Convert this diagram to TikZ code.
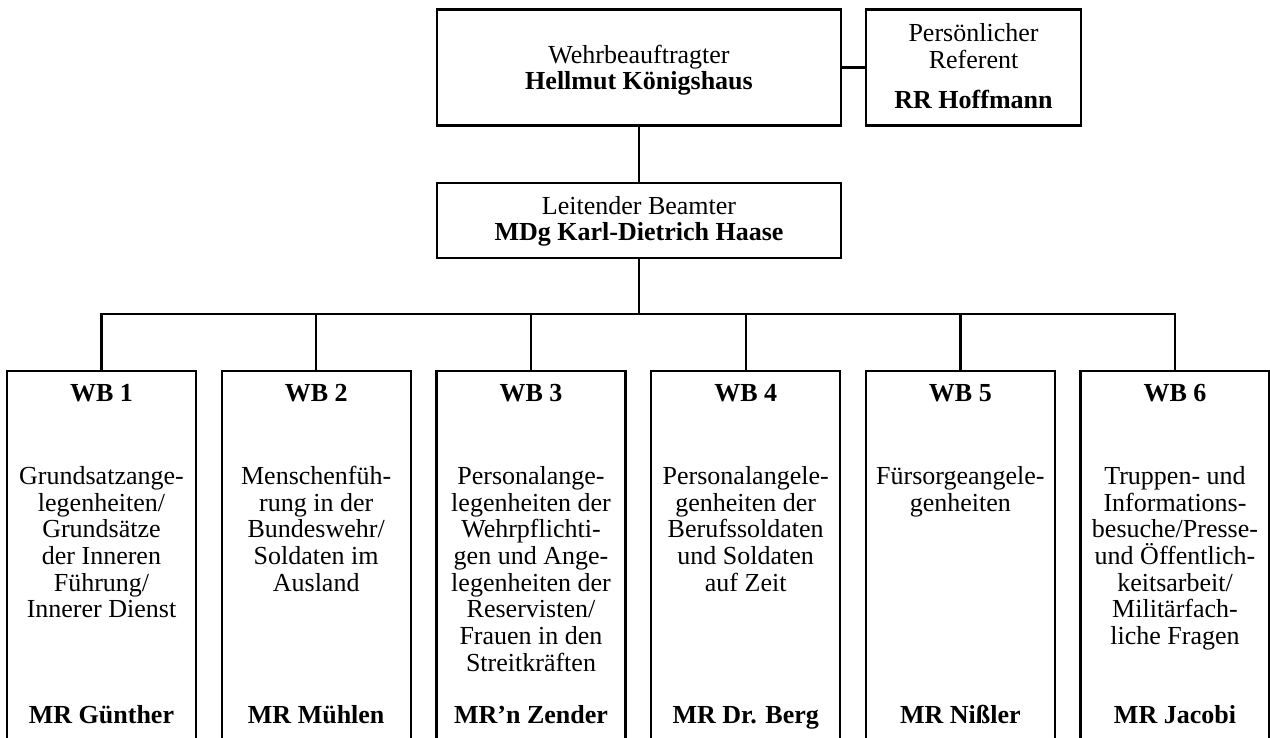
\documentclass[tikz,border=0pt]{standalone}
\usepackage{fontspec}
\setmainfont{Liberation Serif}
\newcommand{\orgfont}{\fontsize{26}{26.7}\selectfont}
\tikzset{
  box/.style={draw, line width=2.2pt, rectangle, inner sep=0pt},
  conn/.style={line width=2.2pt},
  txt/.style={anchor=base, inner sep=0pt, font=\orgfont},
  btxt/.style={anchor=base, inner sep=0pt, font=\orgfont\bfseries},
}
\newcommand{\blk}[1]{\parbox[t]{186pt}{\centering #1}}
\begin{document}
\begin{tikzpicture}[x=1pt,y=-1pt]
\useasboundingbox (0,0) rectangle (1270,738);
% boxes
\node[box, minimum width=404pt, minimum height=116pt] (top) at (639,67.5) {};
\node[box, minimum width=215pt, minimum height=116pt] (ref) at (973.5,67.5) {};
\node[box, minimum width=404pt, minimum height=75pt] (lead) at (639,220.2) {};
\foreach \i/\cx in {1/101.5,2/316.2,3/531,4/745.7,5/960.4,6/1175}{
  \node[box, minimum width=189pt, minimum height=389pt] (wb\i) at (\cx,565.5) {};
}
% texts
\node[txt] (t1) at (639,63.3) {Wehrbeauftragter};
\node[btxt] (t2) at (639,89.3) {Hellmut Königshaus};
\node[txt] (r1) at (973.5,41.7) {Persönlicher};
\node[txt] (r2) at (973.5,68.3) {Referent};
\node[btxt] (r3) at (973.5,108.3) {RR Hoffmann};
\node[txt] (l1) at (639,215) {Leitender Beamter};
\node[btxt] (l2) at (639,241) {MDg Karl-Dietrich Haase};
% WB titles
\foreach \i/\cx in {1/101.5,2/316.2,3/531,4/745.7,5/960.4,6/1175}{
  \node[btxt] (h\i) at (\cx,401.7) {WB \i};
}
% WB bodies
\node[txt] (b1) at (101.5,484.3) {\blk{Grundsatzange-\\legenheiten/\\Grundsätze\\der Inneren\\Führung/\\Innerer Dienst}};
\node[txt] (b2) at (316.2,484.3) {\blk{Menschenfüh-\\rung in der\\Bundeswehr/\\Soldaten im\\Ausland}};
\node[txt] (b3) at (531,484.3) {\blk{Personalange-\\legenheiten der\\Wehrpflichti-\\gen und Ange-\\legenheiten der\\Reservisten/\\Frauen in den\\Streitkräften}};
\node[txt] (b4) at (745.7,484.3) {\blk{Personalangele-\\genheiten der\\Berufssoldaten\\und Soldaten\\auf Zeit}};
\node[txt] (b5) at (960.4,484.3) {\blk{Fürsorgeangele-\\genheiten}};
\node[txt] (b6) at (1175,484.3) {\blk{Truppen- und\\Informations-\\besuche/Presse-\\und Öffentlich-\\keitsarbeit/\\Militärfach-\\liche Fragen}};
% WB names
\node[btxt] (n1) at (101.5,723) {MR Günther};
\node[btxt] (n2) at (316.2,723) {MR Mühlen};
\node[btxt] (n3) at (531,723) {MR’n Zender};
\node[btxt] (n4) at (745.7,723) {MR Dr. Berg};
\node[btxt] (n5) at (960.4,723) {MR Nißler};
\node[btxt] (n6) at (1175,723) {MR Jacobi};
% connectors
\coordinate (bus) at (639,314);
\draw[conn] (top.east) -- (ref.west);
\draw[conn] (top.south) -- (lead.north);
\draw[conn] (lead.south) -- (bus);
\foreach \i in {1,...,6}{
  \draw[conn] (bus) -| (wb\i.north);
}
\end{tikzpicture}
\end{document}
